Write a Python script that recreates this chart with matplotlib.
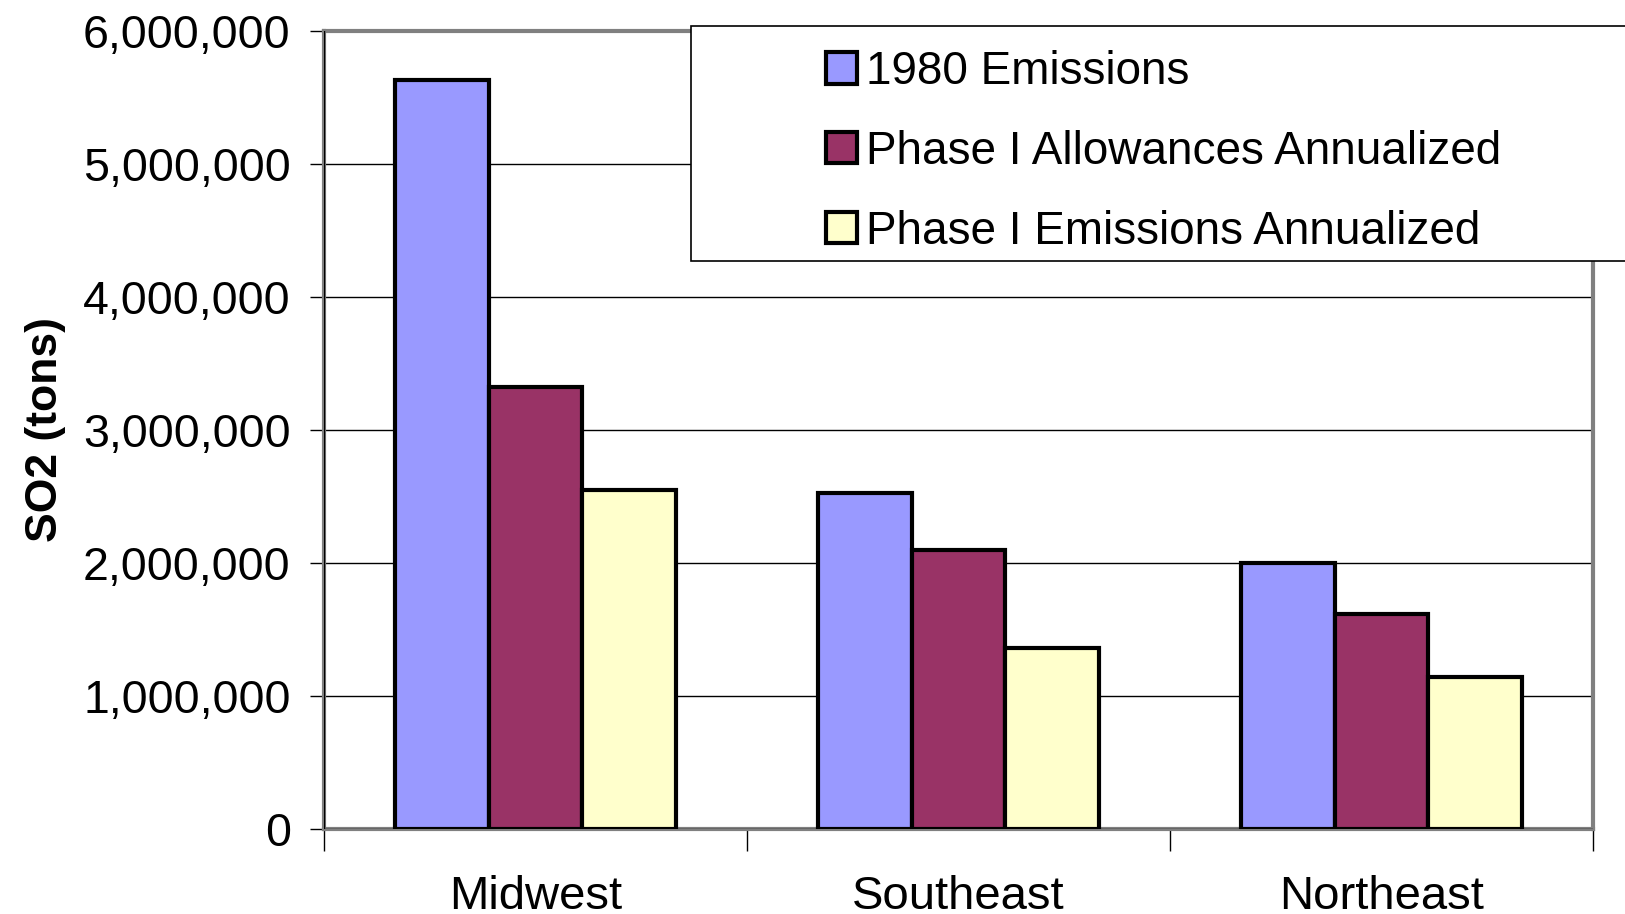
import matplotlib.pyplot as plt
from matplotlib.patches import Rectangle
from matplotlib.ticker import FuncFormatter
import numpy as np

plt.rcParams['font.family'] = ['Liberation Sans', 'DejaVu Sans']

# data
regions = ['Midwest', 'Southeast', 'Northeast']
series_names = ['1980 Emissions', 'Phase I Allowances Annualized', 'Phase I Emissions Annualized']
emissions_1980 = [5630000, 2530000, 2000000]
allowances_ph1 = [3320000, 2100000, 1620000]
emissions_ph1 = [2550000, 1360000, 1145000]
colors = ['#9999ff', '#993366', '#ffffcc']

W, H = 1625, 914
fig = plt.figure(figsize=(W / 100, H / 100), dpi=100)
# plot area in pixels: left 324, right 1593, top 31, bottom 829
ax = fig.add_axes([324 / W, 1 - 829 / H, (1593 - 324) / W, (829 - 31) / H])

x = np.arange(len(regions))
bw = 0.222
for i, (vals, c, name) in enumerate(zip([emissions_1980, allowances_ph1, emissions_ph1], colors, series_names)):
    ax.bar(x + (i - 1) * bw, vals, bw, color=c, edgecolor='black', linewidth=3,
           label=name, zorder=3)

ax.set_xlim(-0.5, 2.5)
ax.set_ylim(0, 6000000)
ax.set_yticks(np.arange(0, 6000001, 1000000))
ax.yaxis.set_major_formatter(FuncFormatter(lambda v, p: f'{int(v):,}'))
ax.tick_params(axis='y', labelsize=33.5, length=10, width=1, pad=14, direction='out')
ax.grid(axis='y', color='black', linewidth=1, zorder=0)

# category boundaries get ticks, labels sit in between
ax.set_xticks([-0.5, 0.5, 1.5, 2.5])
ax.set_xticklabels([])
ax.set_xticks(x, minor=True)
ax.set_xticklabels(regions, minor=True)
ax.tick_params(axis='x', which='major', length=16, width=1, direction='out')
ax.tick_params(axis='x', which='minor', length=0, labelsize=34, pad=33)

for s in ax.spines.values():
    s.set_color('#808080')
    s.set_linewidth(3)
ax.axhline(0, color='black', linewidth=1, zorder=4)
ax.axvline(-0.5, color='black', linewidth=1, zorder=4)

ax.set_ylabel('SO2 (tons)', fontsize=32, fontweight='bold', labelpad=12)

# legend box runs off the right edge of the figure
fig.patches.append(Rectangle((691 / W, 1 - 261 / H), (W - 691 + 10) / W, (261 - 26) / H,
                             transform=fig.transFigure, facecolor='white',
                             edgecolor='black', linewidth=1.2, zorder=5))
leg = fig.legend(loc='upper left', bbox_to_anchor=(826 / W, 1 - 50 / H), frameon=False,
                 fontsize=33, handlelength=0.68, handleheight=0.68, handletextpad=0.2,
                 labelspacing=0.78, borderaxespad=0, borderpad=0)
leg.set_zorder(6)
for h in leg.legend_handles:
    h.set_linewidth(3)

fig.savefig('out.png', dpi=100)
